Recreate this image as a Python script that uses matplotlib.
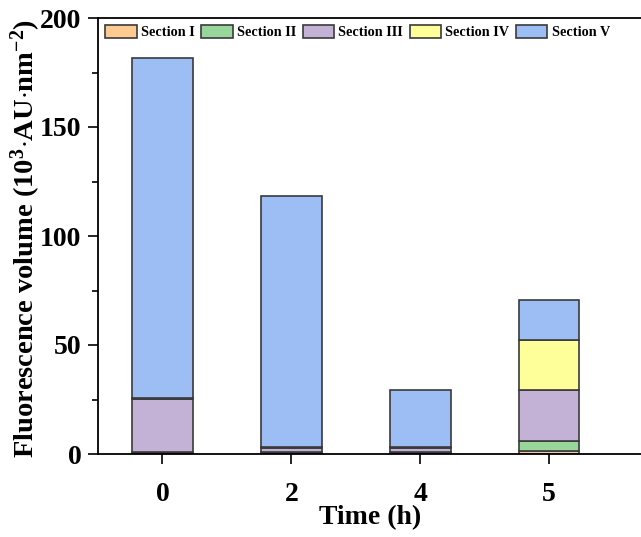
import numpy as np
import matplotlib
matplotlib.use('Agg')
from matplotlib import pyplot as plt
from matplotlib.ticker import MultipleLocator

plt.rcParams['font.family'] = 'Liberation Serif'
plt.rcParams['font.weight'] = 'bold'
plt.rcParams['mathtext.fontset'] = 'custom'
plt.rcParams['mathtext.rm'] = 'Liberation Serif:bold'
plt.rcParams['mathtext.bf'] = 'Liberation Serif:bold'
plt.rcParams['mathtext.default'] = 'bf'

# fluorescence volume per section (10^3 AU nm^-2)
times = ['0', '2', '4', '5']
sec1 = [0.5, 0.5, 0.5, 1.5]
sec2 = [0.3, 0.3, 0.3, 4.5]
sec3 = [24.5, 2.0, 1.8, 23.5]
sec4 = [0.5, 0.3, 0.4, 22.6]
sec5 = [155.7, 115.4, 26.5, 18.4]

names = ['Section I', 'Section II', 'Section III', 'Section IV', 'Section V']
colors = ['#FDCB91', '#98D69B', '#C4B2D6', '#FFFF99', '#9DBDF5']

fig = plt.figure(figsize=(6.41, 5.37), dpi=100)
ax = fig.add_axes([98/641, 83/537, 562/641, 436/537])

x = np.arange(len(times))
bottom = np.zeros(len(times))
for vals, nm, c in zip([sec1, sec2, sec3, sec4, sec5], names, colors):
    ax.bar(x, vals, 0.47, bottom=bottom, color=c, edgecolor='#3a3a3a',
           linewidth=1.2, label=nm)
    bottom += np.array(vals)

ax.set_xlim(-0.5, 3.86)
ax.set_ylim(0, 200)
ax.set_xticks(x)
ax.set_xticklabels(times)
ax.yaxis.set_major_locator(MultipleLocator(50))
ax.yaxis.set_minor_locator(MultipleLocator(25))
ax.tick_params(axis='both', which='major', length=7, width=1.2, labelsize=20)
ax.tick_params(axis='x', which='major', pad=13)
ax.tick_params(axis='y', which='major', pad=5)
ax.tick_params(axis='y', which='minor', length=4, width=1.2)
ax.spines['right'].set_visible(False)
for s in ['left', 'bottom', 'top']:
    ax.spines[s].set_linewidth(1.3)

ax.set_xlabel('Time (h)', fontsize=20, fontweight='bold')
ax.xaxis.set_label_coords(0.484, -0.117)
ax.set_ylabel('Fluorescence volume (10$^{3}$$\\cdot$AU$\\cdot$nm$^{-2}$)',
              fontsize=20.5, fontweight='bold')
ax.yaxis.set_label_coords(-0.097, 0.495)

ax.legend(loc='upper left', bbox_to_anchor=(-0.005, 1.008), ncol=5, frameon=False,
          fontsize=10.3, handlelength=2.2, handleheight=1.05, columnspacing=0.45,
          handletextpad=0.3, borderaxespad=0.3)

fig.savefig('out.png', dpi=100)
